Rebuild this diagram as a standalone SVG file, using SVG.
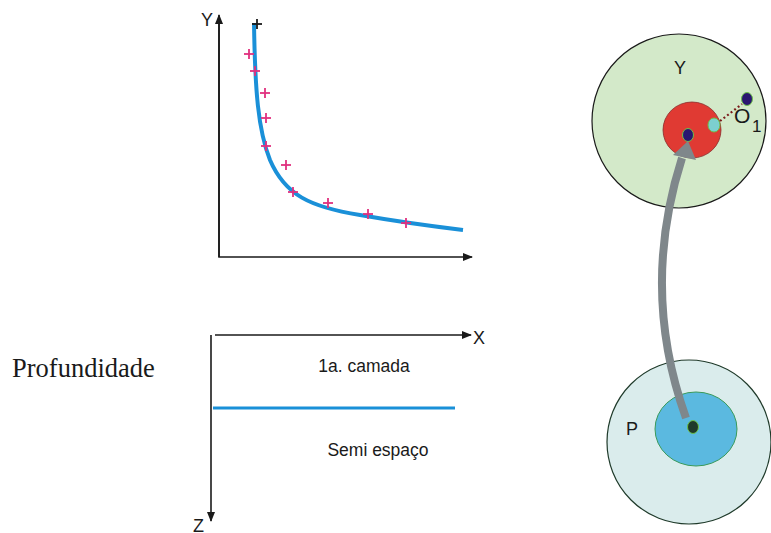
<svg xmlns="http://www.w3.org/2000/svg" width="771" height="533" viewBox="0 0 771 533">
<style>
.ax{stroke:#1a1a1a;stroke-width:1.6;fill:none}
.lbl{font-family:"Liberation Sans",Arial,sans-serif;fill:#1a1a1a}
.pt{stroke:#e0307e;stroke-width:1.8}
.dot{stroke:#6cc04a;stroke-width:1}
</style>
<defs>
<marker id="ah" markerWidth="10" markerHeight="8" refX="9" refY="4" orient="auto" markerUnits="userSpaceOnUse">
<path d="M0,0 L10,4 L0,8 Z" fill="#1a1a1a"/>
</marker>
<g id="cross"><line x1="-5" y1="0" x2="5" y2="0"/><line x1="0" y1="-5" x2="0" y2="5"/></g>
</defs>
<rect width="771" height="533" fill="#fff"/>

<g id="graph">
<polyline class="ax" points="219,22 219,257 472,257" marker-end="url(#ah)"/>
<line class="ax" x1="219" y1="257" x2="219" y2="15" marker-end="url(#ah)"/>
<text class="lbl" x="201" y="26" font-size="18">Y</text>
<path d="M254,23 C255,90 258,130 270,160 C285,195 310,207 360,215 C400,222 430,226 463,230" stroke="#1a90d8" stroke-width="4" fill="none"/>
<g class="pt">
<use href="#cross" x="249" y="54"/>
<use href="#cross" x="255" y="71"/>
<use href="#cross" x="265" y="93"/>
<use href="#cross" x="266" y="118"/>
<use href="#cross" x="266" y="146"/>
<use href="#cross" x="286" y="165"/>
<use href="#cross" x="293" y="192"/>
<use href="#cross" x="328" y="203"/>
<use href="#cross" x="368" y="214"/>
<use href="#cross" x="406" y="223"/>
</g>
<use href="#cross" x="257" y="24" stroke="#1a1a1a" stroke-width="1.8"/>
</g>

<g id="profile">
<line class="ax" x1="211" y1="335" x2="211" y2="521" marker-end="url(#ah)"/>
<line class="ax" x1="215" y1="335" x2="471" y2="335" marker-end="url(#ah)"/>
<text class="lbl" x="473" y="344" font-size="18">X</text>
<text class="lbl" x="193" y="532" font-size="18">Z</text>
<line x1="213" y1="408" x2="455" y2="408" stroke="#1a90d8" stroke-width="3"/>
<text class="lbl" x="364" y="372" font-size="17.5" text-anchor="middle">1a. camada</text>
<text class="lbl" x="378" y="456" font-size="17.5" text-anchor="middle">Semi espaço</text>
<text x="12" y="377" font-size="26.5" font-family="'Liberation Serif','Times New Roman',serif" fill="#1a1a1a">Profundidade</text>
</g>

<g id="circleY">
<circle cx="679" cy="121" r="87" fill="#d3e9c9" stroke="#1a1a1a" stroke-width="1.2"/>
<text class="lbl" x="680" y="74" font-size="18" text-anchor="middle">Y</text>
<ellipse cx="692" cy="130" rx="29" ry="28" fill="#e03a33" stroke="#8a2a2a" stroke-width="0.8"/>
<line x1="720" y1="121" x2="742" y2="104" stroke="#7a1a1a" stroke-width="2.2" stroke-dasharray="2,2.5"/>
<ellipse class="dot" cx="714" cy="125" rx="6" ry="7" fill="#7ccfcf"/>
<ellipse class="dot" cx="688" cy="135" rx="5.5" ry="6.5" fill="#2a1670"/>
<ellipse class="dot" cx="747" cy="99" rx="5.5" ry="6.5" fill="#2a1670"/>
<text class="lbl" x="734" y="123" font-size="21">O</text>
<text class="lbl" x="752" y="132" font-size="17">1</text>
</g>

<g id="circleP">
<circle cx="689" cy="442" r="82" fill="#daecec" stroke="#1f3a2a" stroke-width="1.2"/>
<ellipse cx="696" cy="429" rx="41" ry="37" fill="#5bb9e0" stroke="#3a9a5a" stroke-width="1"/>
<ellipse class="dot" cx="693" cy="427" rx="5.5" ry="6.5" fill="#1f3a2a"/>
<text class="lbl" x="626" y="435" font-size="18">P</text>
</g>

<g id="connectors">
<path d="M686,418 Q640,290 682,158" stroke="#7f878b" stroke-width="8" fill="none"/>
<path d="M688,141 L673,155 L696,160 Z" fill="#7f878b"/>
</g>
</svg>
